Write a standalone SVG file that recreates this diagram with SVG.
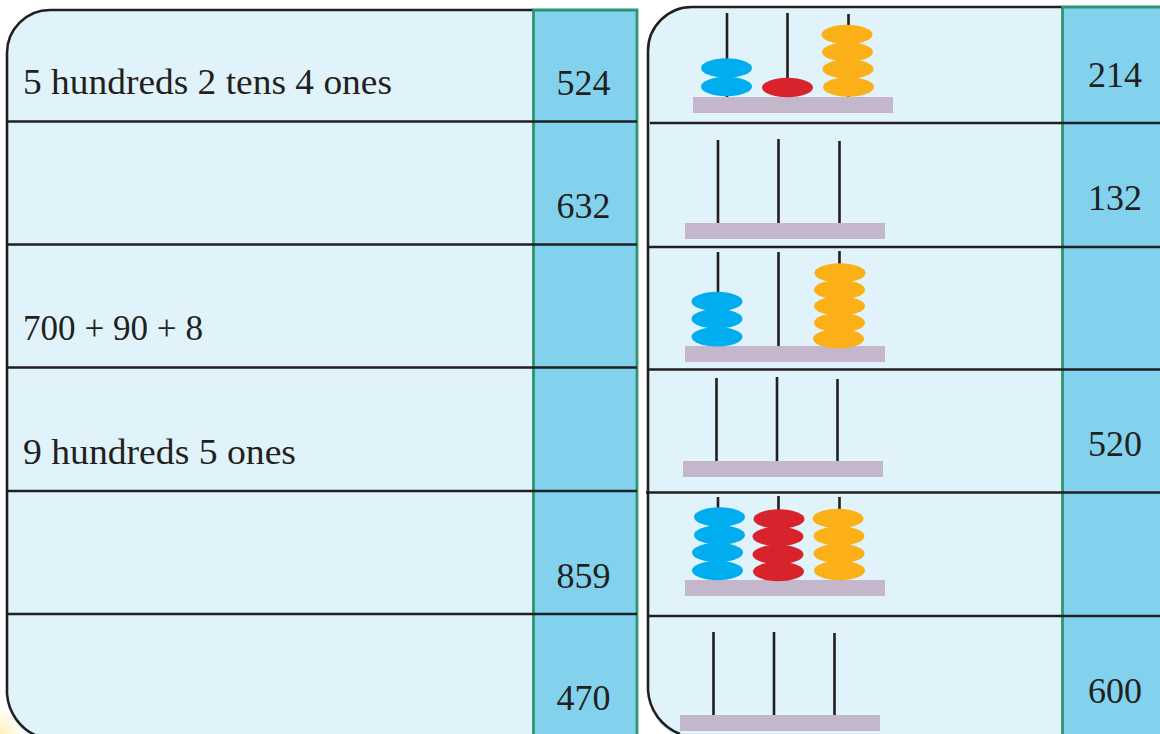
<svg xmlns="http://www.w3.org/2000/svg" width="1160" height="734" viewBox="0 0 1160 734">
<defs>
<radialGradient id="glow" cx="0" cy="734" r="26" gradientUnits="userSpaceOnUse"><stop offset="0" stop-color="#fff3b8"/><stop offset="1" stop-color="#ffffff"/></radialGradient>
</defs>
<style>
.panel{fill:#e1f3fa}
.col{fill:#82d2ee}
.edge{fill:none;stroke:#231f20;stroke-width:2.6}
.sep{stroke:#231f20;stroke-width:2.6;fill:none}
.grn{stroke:#2f9470;stroke-width:2.8;fill:none}
.rod{stroke:#231f20;stroke-width:2.6;fill:none}
.base{fill:#c4b7cb}
.b{fill:#00aeef}.r{fill:#d9232c}.y{fill:#fcb017}
text{font-family:"Liberation Serif","DejaVu Serif",serif;font-size:36px;fill:#231f20}
.n{text-anchor:middle}
</style>
<rect width="1160" height="734" fill="#fff"/>
<rect x="0" y="705" width="30" height="29" fill="url(#glow)"/>
<g id="left-table">
<path class="panel" d="M533 10H50A43 43 0 0 0 7 53V694A50 50 0 0 0 37 740H533Z"/>
<rect class="col" x="533" y="10" width="104" height="724"/>
<path class="edge" d="M533 10H50A43 43 0 0 0 7 53V694A50 50 0 0 0 37 736"/>
<path class="grn" d="M533.500 734V10H637V734"/>
<path class="sep" d="M8 121.500H637M8 244.500H637M8 367.500H637M8 491H637M8 614H637"/>
</g>
<g id="left-labels">
<text x="23" y="94" textLength="369" lengthAdjust="spacingAndGlyphs">5 hundreds 2 tens 4 ones</text>
<text x="23" y="340" textLength="180" lengthAdjust="spacingAndGlyphs">700 + 90 + 8</text>
<text x="23" y="464" textLength="273" lengthAdjust="spacingAndGlyphs">9 hundreds 5 ones</text>
<text class="n" x="583.500" y="94.500">524</text>
<text class="n" x="583.500" y="217.500">632</text>
<text class="n" x="583.500" y="587.500">859</text>
<text class="n" x="583.500" y="709.500">470</text>
</g>
<g id="right-table">
<path class="panel" d="M1062 7H692A44 44 0 0 0 648 51V690A50 50 0 0 0 680 738H1062Z"/>
<rect class="col" x="1062" y="7" width="98" height="727"/>
<path class="edge" d="M1062 7H692A44 44 0 0 0 648 51V690A50 50 0 0 0 680 734"/>
<path class="grn" d="M1062.500 734V7H1160"/>
<path class="sep" d="M650 123H1160M648 247H1160M648 369.500H1160M646 492.500H1160M648 616H1160"/>
</g>
<g id="right-labels">
<text class="n" x="1115" y="86.500">214</text>
<text class="n" x="1115" y="209.500">132</text>
<text class="n" x="1115" y="455.500">520</text>
<text class="n" x="1115" y="702.500">600</text>
</g>
<g id="abacus-1">
<path class="rod" d="M727 13V97M787.500 13V97M848.500 14V97"/>
<rect class="base" x="693" y="97" width="200" height="16"/>
<ellipse class="b" cx="726.500" cy="68" rx="25.500" ry="9.700"/><ellipse class="b" cx="726.500" cy="86.500" rx="25.500" ry="9.700"/>
<ellipse class="r" cx="787.500" cy="87.500" rx="25.500" ry="9.700"/>
<ellipse class="y" cx="847" cy="34.500" rx="25.500" ry="9.700"/><ellipse class="y" cx="847.500" cy="52" rx="25.500" ry="9.700"/><ellipse class="y" cx="848" cy="69" rx="25.500" ry="9.700"/><ellipse class="y" cx="848.500" cy="87" rx="25.500" ry="9.700"/>
</g>
<g id="abacus-2">
<path class="rod" d="M718 140V223M778.500 139V223M839.500 141V223"/>
<rect class="base" x="685" y="223" width="200" height="16"/>
</g>
<g id="abacus-3">
<path class="rod" d="M718 252V346M778.500 252V346M839.500 251V346"/>
<rect class="base" x="685" y="346" width="200" height="16"/>
<ellipse class="b" cx="717" cy="301.500" rx="25.500" ry="9.700"/><ellipse class="b" cx="717" cy="318.800" rx="25.500" ry="9.700"/><ellipse class="b" cx="717" cy="336.800" rx="25.500" ry="9.700"/>
<ellipse class="y" cx="840" cy="273" rx="25.500" ry="9.700"/><ellipse class="y" cx="839.500" cy="289.700" rx="25.500" ry="9.700"/><ellipse class="y" cx="839.500" cy="306" rx="25.500" ry="9.700"/><ellipse class="y" cx="839.500" cy="322.700" rx="25.500" ry="9.700"/><ellipse class="y" cx="838.500" cy="338.700" rx="25.500" ry="9.700"/>
</g>
<g id="abacus-4">
<path class="rod" d="M716.500 378V461M777 377V461M837.500 379V461"/>
<rect class="base" x="683" y="461" width="200" height="16"/>
</g>
<g id="abacus-5">
<path class="rod" d="M718 497V580M778.500 496V580M839.500 497V580"/>
<rect class="base" x="685" y="580" width="200" height="16"/>
<ellipse class="b" cx="719.500" cy="517" rx="25.500" ry="9.700"/><ellipse class="b" cx="719.500" cy="535" rx="25.500" ry="9.700"/><ellipse class="b" cx="717.500" cy="552.500" rx="25.500" ry="9.700"/><ellipse class="b" cx="717.500" cy="570.500" rx="25.500" ry="9.700"/>
<ellipse class="r" cx="779" cy="519" rx="25.500" ry="9.700"/><ellipse class="r" cx="778" cy="536.500" rx="25.500" ry="9.700"/><ellipse class="r" cx="778" cy="554.500" rx="25.500" ry="9.700"/><ellipse class="r" cx="778.500" cy="571.500" rx="25.500" ry="9.700"/>
<ellipse class="y" cx="838" cy="518.500" rx="25.500" ry="9.700"/><ellipse class="y" cx="839" cy="536" rx="25.500" ry="9.700"/><ellipse class="y" cx="839" cy="553.500" rx="25.500" ry="9.700"/><ellipse class="y" cx="839.500" cy="570.500" rx="25.500" ry="9.700"/>
</g>
<g id="abacus-6">
<path class="rod" d="M713.500 632V715M774 632V715M834.500 633V715"/>
<rect class="base" x="680" y="715" width="200" height="16"/>
</g>
</svg>
